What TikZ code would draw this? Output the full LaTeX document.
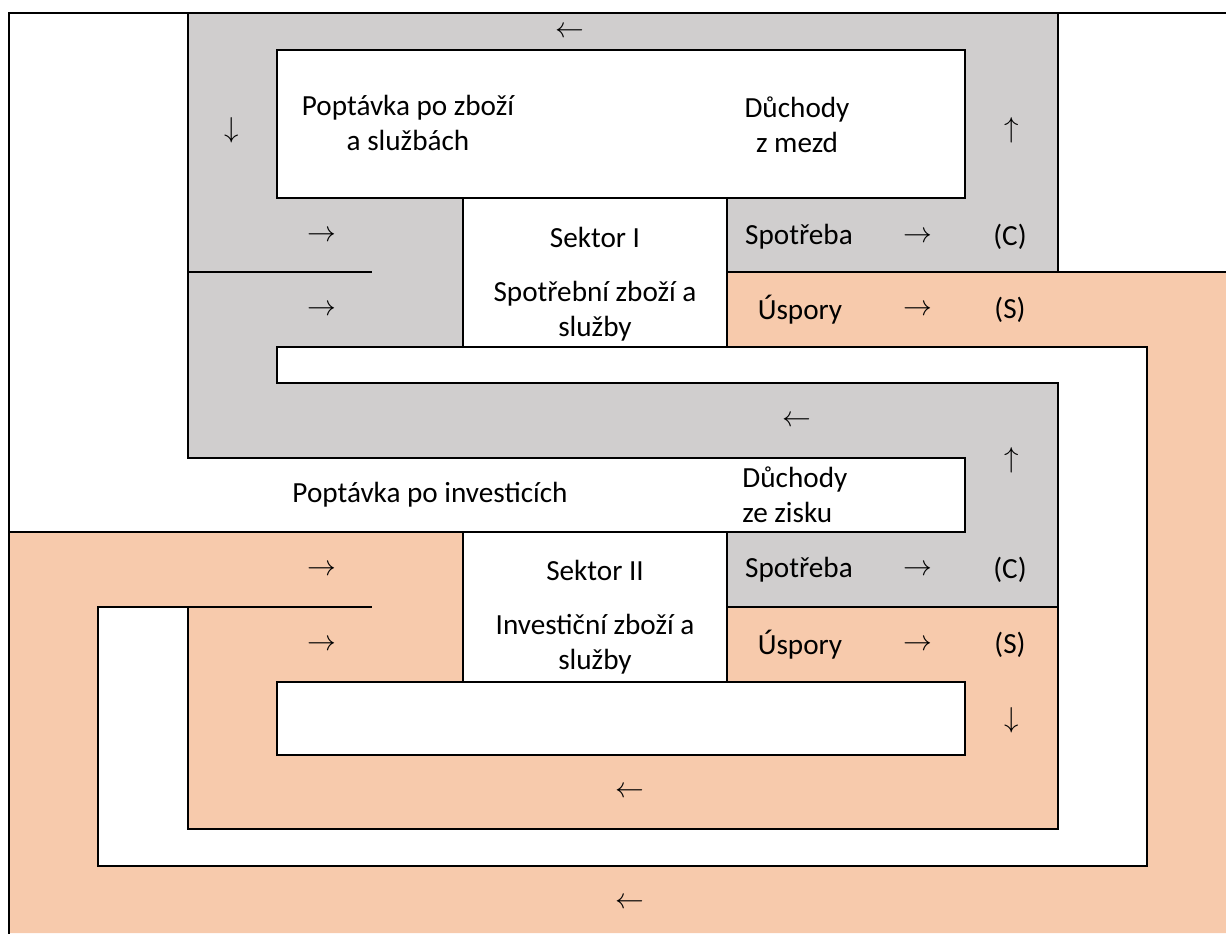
\documentclass[tikz,border=0pt]{standalone}
\usepackage{fontspec}
\setmainfont{Carlito}
\definecolor{sectorgray}{HTML}{D0CECE}
\definecolor{savingsorange}{HTML}{F7CAAC}
\tikzset{
  grayzone/.style={fill=sectorgray},
  orangezone/.style={fill=savingsorange},
  blank/.style={fill=white},
  edge/.style={line width=0.7pt, line cap=rect},
  lbl/.style={font=\fontsize{14.6}{17.5}\selectfont, inner sep=0pt, align=center},
  arr/.style={font=\fontsize{14}{14}\selectfont, inner sep=0pt},
}
\begin{document}
\begin{tikzpicture}[x=0.5pt, y=-0.5pt]
    \useasboundingbox (0,0) rectangle (1226,933);
    % plochy
    \fill[orangezone] (9,532) rectangle (1226,933) (727,272) rectangle (1226,532);
    \fill[grayzone] (188,13) rectangle (1058,458);
    \fill[orangezone] (727,272) rectangle (1058,347);
    \fill[blank] (277,347) rectangle (1147,383) (1058,383) rectangle (1147,866)
        (98,829) rectangle (1147,866) (98,607) rectangle (188,866);
    \fill[grayzone] (965,458) rectangle (1058,607) (727,532) rectangle (965,607);
    \fill[blank] (9,458) rectangle (965,532) (277,50) rectangle (965,198)
        (463,198) rectangle (727,347) (463,532) rectangle (727,682)
        (277,682) rectangle (965,755);

    % čáry
    \draw[edge] (9,13) -- (1226,13);
    \draw[edge] (9,13) -- (9,933);
    \draw[edge] (188,13) -- (188,458) -- (965,458) -- (965,532) -- (9,532);
    \draw[edge] (1058,13) -- (1058,272);
    \draw[edge] (277,50) rectangle (965,198);
    \draw[edge] (463,198) -- (463,347);
    \draw[edge] (727,198) -- (727,347);
    \draw[edge] (188,272) -- (371,272);
    \draw[edge] (727,272) -- (1226,272);
    \draw[edge] (277,347) -- (1147,347) -- (1147,866) -- (98,866) -- (98,607) -- (371,607);
    \draw[edge] (277,347) -- (277,383) -- (1058,383) -- (1058,829) -- (188,829) -- (188,607);
    \draw[edge] (463,532) -- (463,682);
    \draw[edge] (727,532) -- (727,682);
    \draw[edge] (727,607) -- (1058,607);
    \draw[edge] (277,682) rectangle (965,755);

    % sektor I
    \node[arr] (topL) at (570,32) {$\leftarrow$};
    \node[arr] (leftD) at (232,130) {$\downarrow$};
    \node[lbl] (demandI) at (408,123) {Poptávka po zboží\\a službách};
    \node[lbl] (wages) at (797,125) {Důchody\\z mezd};
    \node[arr] (rightUI) at (1012,130) {$\uparrow$};
    \node[arr] (inIa) at (322,236) {$\rightarrow$};
    \node[arr] (inIb) at (322,310) {$\rightarrow$};
    \node[lbl] (sectorI) at (595,237) {Sektor I};
    \node[lbl] (goodsI) at (595,311) {Spotřební zboží a\\služby};
    \node[lbl] (consI) at (799,237) {Spotřeba};
    \node[arr] (consIarr) at (918,237) {$\rightarrow$};
    \node[lbl] (consIc) at (1010,237) {(C)};
    \node[lbl] (savI) at (800,310) {Úspory};
    \node[arr] (savIarr) at (918,310) {$\rightarrow$};
    \node[lbl] (savIs) at (1010,310) {(S)};

    % sektor II
    \node[arr] (midL) at (797,421) {$\leftarrow$};
    \node[arr] (rightUII) at (1012,460) {$\uparrow$};
    \node[lbl] (demandII) at (430,495) {Poptávka po investicích};
    \node[lbl, align=left, anchor=west] (profits) at (742,495) {Důchody\\ze zisku};
    \node[arr] (inIIa) at (322,570) {$\rightarrow$};
    \node[arr] (inIIb) at (322,645) {$\rightarrow$};
    \node[lbl] (sectorII) at (595,570) {Sektor II};
    \node[lbl] (goodsII) at (595,644) {Investiční zboží a\\služby};
    \node[lbl] (consII) at (799,570) {Spotřeba};
    \node[arr] (consIIarr) at (918,570) {$\rightarrow$};
    \node[lbl] (consIIc) at (1010,570) {(C)};
    \node[lbl] (savII) at (800,645) {Úspory};
    \node[arr] (savIIarr) at (918,645) {$\rightarrow$};
    \node[lbl] (savIIs) at (1010,645) {(S)};
    \node[arr] (rightDII) at (1012,720) {$\downarrow$};
    \node[arr] (lowL) at (630,792) {$\leftarrow$};
    \node[arr] (bottomL) at (630,903) {$\leftarrow$};
\end{tikzpicture}
\end{document}
